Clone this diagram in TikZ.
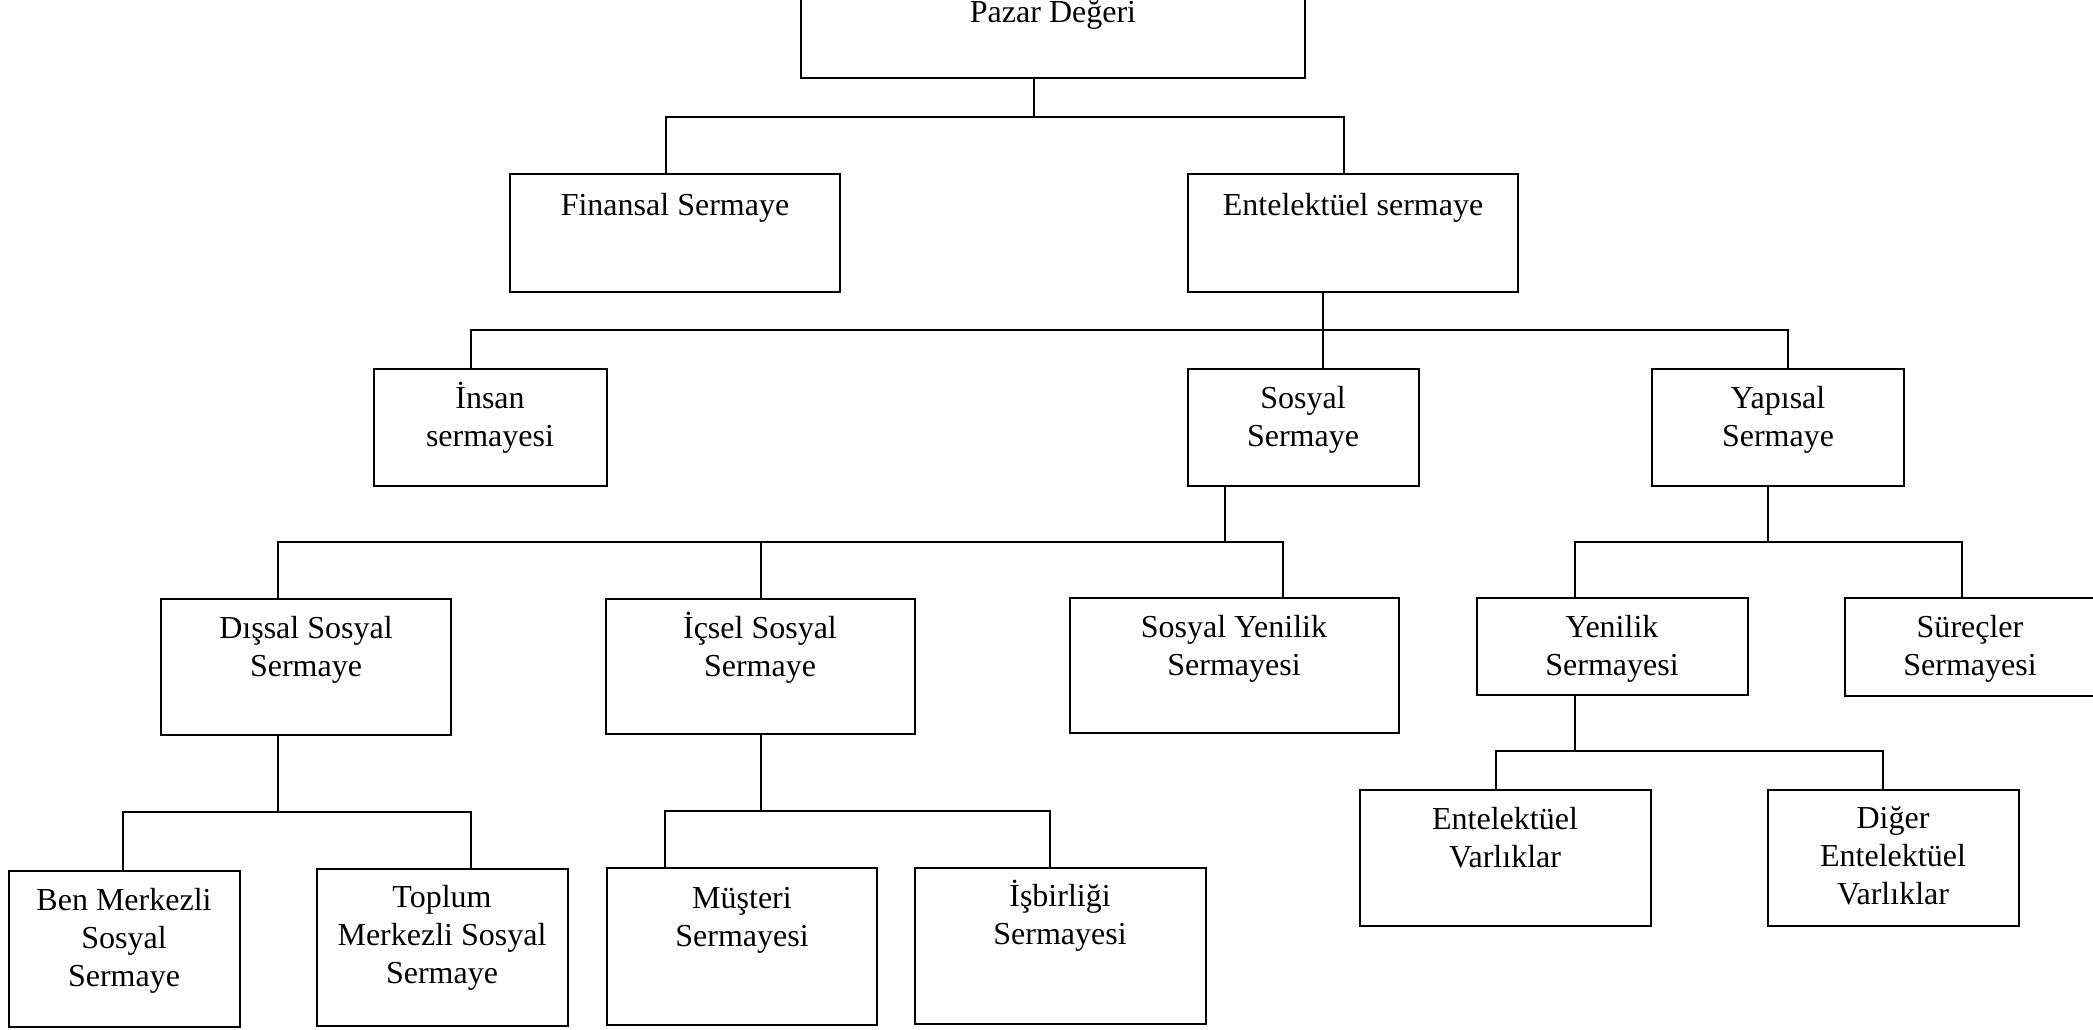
\documentclass[tikz,border=0pt]{standalone}
\usepackage{fontspec}
\setmainfont{Liberation Serif}
\usetikzlibrary{fit}
\begin{document}
\begin{tikzpicture}[x=0.01cm, y={(0cm,-0.01cm)},
  box/.style={draw=black, line width=0.7pt, inner sep=0pt, outer sep=0pt, rectangle},
  lbl/.style={inner sep=0pt, align=center, anchor=base,
              font=\fontsize{9.1pt}{10.8pt}\selectfont},
  conn/.style={draw=black, line width=0.6pt}]
\useasboundingbox (0,0) rectangle (2093,1029);
\fill[white] (0,0) rectangle (2093,1029);
\clip (0,0) rectangle (2093,1029);

% boxes, by their corners
\node[box, fit={(801,-40) (1305,78)}]   (paz)  {};
\node[box, fit={(510,174) (840,292)}]   (fin)  {};
\node[box, fit={(1188,174) (1518,292)}] (ent)  {};
\node[box, fit={(374,369) (607,486)}]   (ins)  {};
\node[box, fit={(1188,369) (1419,486)}] (sos)  {};
\node[box, fit={(1652,369) (1904,486)}] (yap)  {};
\node[box, fit={(161,599) (451,735)}]   (dis)  {};
\node[box, fit={(606,599) (915,734)}]   (ics)  {};
\node[box, fit={(1070,598) (1399,733)}] (syn)  {};
\node[box, fit={(1477,598) (1748,695)}] (yen)  {};
\node[box, fit={(1845,598) (2095,696)}] (sur)  {};
\node[box, fit={(1360,790) (1651,926)}] (entv) {};
\node[box, fit={(1768,790) (2019,926)}] (dig)  {};
\node[box, fit={(9,871) (240,1027)}]    (ben)  {};
\node[box, fit={(317,869) (568,1026)}]  (top)  {};
\node[box, fit={(607,868) (877,1025)}]  (mus)  {};
\node[box, fit={(915,868) (1206,1024)}] (isb)  {};

% labels (placed by the baseline of the last line)
\node[lbl] (paz-t)  at (1053,22)  {Pazar Değeri};
\node[lbl] (fin-t)  at (675,215)  {Finansal Sermaye};
\node[lbl] (ent-t)  at (1353,215) {Entelektüel sermaye};
\node[lbl] (ins-t)  at (490,446)  {İnsan\\sermayesi};
\node[lbl] (sos-t)  at (1303,446) {Sosyal\\Sermaye};
\node[lbl] (yap-t)  at (1778,446) {Yapısal\\Sermaye};
\node[lbl] (dis-t)  at (306,676)  {Dışsal Sosyal\\Sermaye};
\node[lbl] (ics-t)  at (760,676)  {İçsel Sosyal\\Sermaye};
\node[lbl] (syn-t)  at (1234,675) {Sosyal Yenilik\\Sermayesi};
\node[lbl] (yen-t)  at (1612,675) {Yenilik\\Sermayesi};
\node[lbl] (sur-t)  at (1970,675) {Süreçler\\Sermayesi};
\node[lbl] (entv-t) at (1505,867) {Entelektüel\\Varlıklar};
\node[lbl] (dig-t)  at (1893,904) {Diğer\\Entelektüel\\Varlıklar};
\node[lbl] (ben-t)  at (124,986)  {Ben Merkezli\\Sosyal\\Sermaye};
\node[lbl] (top-t)  at (442,983)  {Toplum\\Merkezli Sosyal\\Sermaye};
\node[lbl] (mus-t)  at (742,946)  {Müşteri\\Sermayesi};
\node[lbl] (isb-t)  at (1060,944) {İşbirliği\\Sermayesi};

% bus points where each parent's drop meets its horizontal bar
\coordinate (b1) at (1034,117);
\coordinate (b2) at (1323,330);
\coordinate (b3) at (1225,542);
\coordinate (b4) at (1768,542);
\coordinate (b5) at (278,812);
\coordinate (b6) at (761,811);
\coordinate (b7) at (1575,751);

% Pazar Degeri
\draw[conn] (paz.south -| b1) -- (b1);
\draw[conn] (fin.north -| 666,0) |- (b1) -| (ent.north -| 1344,0);
% Entelektuel sermaye
\draw[conn] (ent.south -| b2) -- (sos.north -| b2);
\draw[conn] (ins.north -| 471,0) |- (b2) -| (yap.north -| 1788,0);
% Sosyal Sermaye
\draw[conn] (sos.south -| b3) -- (b3);
\draw[conn] (dis.north -| 278,0) |- (b3) -| (syn.north -| 1283,0);
\draw[conn] (ics.north -| 761,0) -- (761,542);
% Yapisal Sermaye
\draw[conn] (yap.south -| b4) -- (b4);
\draw[conn] (yen.north -| 1575,0) |- (b4) -| (sur.north -| 1962,0);
% Dissal Sosyal Sermaye
\draw[conn] (dis.south -| b5) -- (b5);
\draw[conn] (ben.north -| 123,0) |- (b5) -| (top.north -| 471,0);
% Icsel Sosyal Sermaye
\draw[conn] (ics.south -| b6) -- (b6);
\draw[conn] (mus.north -| 665,0) |- (b6) -| (isb.north -| 1050,0);
% Yenilik Sermayesi
\draw[conn] (yen.south -| b7) -- (b7);
\draw[conn] (entv.north -| 1496,0) |- (b7) -| (dig.north -| 1883,0);
\end{tikzpicture}
\end{document}
